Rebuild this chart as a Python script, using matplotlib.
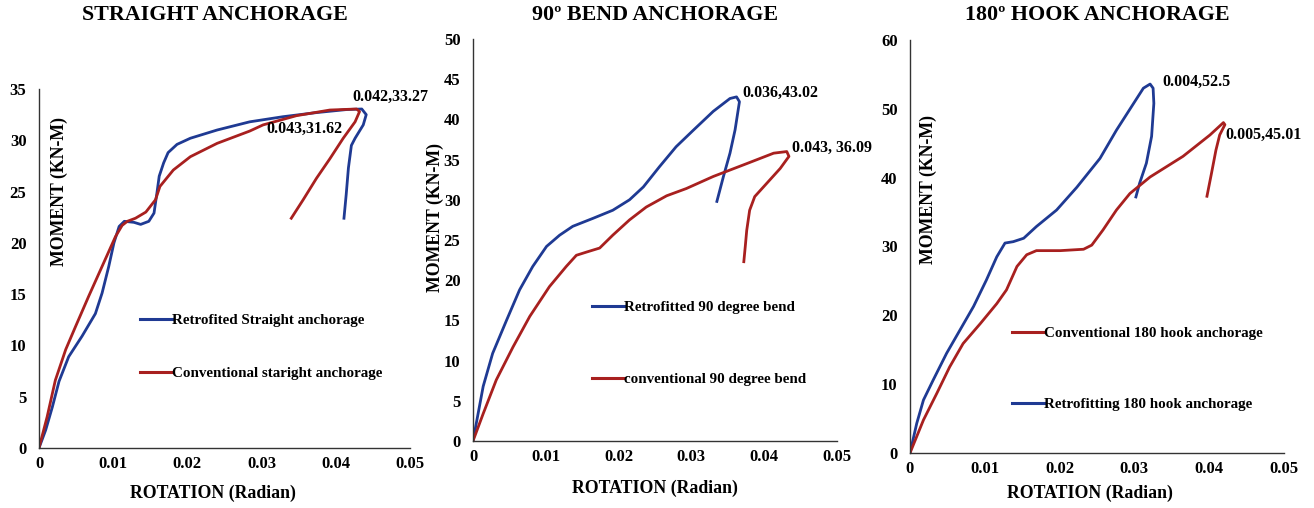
import matplotlib
matplotlib.use("Agg")
import matplotlib.pyplot as plt
from matplotlib.lines import Line2D

plt.rcParams['font.family'] = ['Liberation Serif', 'DejaVu Serif']
plt.rcParams['font.weight'] = 'bold'

BLUE = '#1F3A93'
RED = '#A8201F'

# ---------------- Data ----------------
# Straight anchorage
s_retro_x = [0, 0.0009, 0.0018, 0.0027, 0.004, 0.0058, 0.0076, 0.0085, 0.0094, 0.0101, 0.0108,
             0.0115, 0.0128, 0.0137, 0.0148, 0.0155, 0.0159, 0.0162, 0.0168, 0.0174, 0.0186,
             0.0204, 0.024, 0.0284, 0.0329, 0.0374, 0.0415, 0.0435, 0.0441, 0.0437, 0.0426,
             0.0421, 0.0417, 0.0414, 0.0411]
s_retro_y = [0, 1.75, 4.0, 6.5, 8.9, 10.9, 13.1, 15.1, 17.7, 20.0, 21.6,
             22.1, 22.0, 21.8, 22.1, 22.9, 24.9, 26.5, 27.8, 28.8, 29.6,
             30.2, 31.0, 31.8, 32.3, 32.7, 33.0, 33.05, 32.5, 31.5, 30.2,
             29.5, 27.3, 24.7, 22.4]
s_conv_x = [0, 0.0011, 0.0022, 0.0036, 0.0049, 0.0067, 0.0085, 0.0103, 0.0112, 0.0119, 0.013,
            0.0144, 0.0157, 0.0163, 0.0181, 0.0204, 0.024, 0.0284, 0.0302, 0.0347, 0.0392,
            0.0428, 0.0432, 0.0426, 0.041, 0.0392, 0.0374, 0.0356, 0.034]
s_conv_y = [0, 3.05, 6.6, 9.6, 11.8, 14.8, 17.7, 20.6, 21.7, 22.1, 22.4,
            23.0, 24.2, 25.5, 27.1, 28.4, 29.7, 30.9, 31.5, 32.4, 32.95,
            33.05, 32.8, 31.8, 30.2, 28.2, 26.3, 24.2, 22.4]

# 90 degree bend anchorage
b_retro_x = [0, 0.0007, 0.0014, 0.0027, 0.0046, 0.0064, 0.0082, 0.0101, 0.0119, 0.0137, 0.0165,
             0.0192, 0.0215, 0.0234, 0.0256, 0.0279, 0.0302, 0.033, 0.0353, 0.0362, 0.0366,
             0.036, 0.0353, 0.0344, 0.0335]
b_retro_y = [0, 3.4, 6.8, 10.9, 15.0, 18.8, 21.7, 24.2, 25.6, 26.7, 27.7,
             28.7, 30.0, 31.6, 34.1, 36.6, 38.6, 41.0, 42.6, 42.8, 42.2,
             38.7, 35.8, 32.9, 29.8]
b_conv_x = [0, 0.0014, 0.0032, 0.0055, 0.0078, 0.0105, 0.0128, 0.0142, 0.0156, 0.0174, 0.0192,
            0.0215, 0.0238, 0.0266, 0.0293, 0.033, 0.0376, 0.0413, 0.0431, 0.0434, 0.0422,
            0.0403, 0.0387, 0.038, 0.0376, 0.0374, 0.0372]
b_conv_y = [0, 3.4, 7.6, 11.7, 15.5, 19.2, 21.7, 23.1, 23.5, 24.0, 25.6,
            27.5, 29.1, 30.5, 31.4, 32.9, 34.5, 35.8, 36.0, 35.4, 33.9,
            32.0, 30.4, 28.7, 26.2, 24.2, 22.3]

# 180 degree hook anchorage
h_retro_x = [0, 0.0009, 0.0018, 0.0031, 0.0049, 0.0067, 0.0085, 0.0102, 0.0116, 0.0127, 0.0138,
             0.0152, 0.0169, 0.0196, 0.0223, 0.0254, 0.0276, 0.0299, 0.0312, 0.0321, 0.0325,
             0.0326, 0.0323, 0.0316, 0.0307, 0.0302]
h_retro_y = [0, 4.3, 7.7, 10.6, 14.5, 17.9, 21.3, 25.1, 28.5, 30.5, 30.7,
             31.2, 32.9, 35.3, 38.6, 42.8, 46.9, 50.8, 53.0, 53.6, 53.0,
             50.8, 46.0, 42.1, 39.2, 37.2]
h_conv_x = [0, 0.0018, 0.0036, 0.0053, 0.0071, 0.0094, 0.0116, 0.0129, 0.0143, 0.0156, 0.0169,
            0.0201, 0.0232, 0.0243, 0.0258, 0.0276, 0.0294, 0.0321, 0.0365, 0.0401, 0.0419,
            0.0421, 0.0414, 0.0409, 0.0403, 0.0397]
h_conv_y = [0, 4.8, 8.7, 12.5, 15.9, 18.8, 21.7, 23.7, 27.1, 28.8, 29.4,
            29.4, 29.6, 30.2, 32.4, 35.3, 37.7, 40.1, 43.1, 46.2, 48.0,
            47.7, 46.2, 44.0, 40.6, 37.3]

titles = ['STRAIGHT ANCHORAGE', '90º BEND ANCHORAGE', '180º HOOK ANCHORAGE']
xticks = [0, 0.01, 0.02, 0.03, 0.04, 0.05]
xtick_labels = ['0', '0.01', '0.02', '0.03', '0.04', '0.05']

W, H = 1314, 508
fig = plt.figure(figsize=(W / 100, H / 100), dpi=100)


def px_axes(l, r, t, b):
    return fig.add_axes([l / W, (H - b) / H, (r - l) / W, (b - t) / H])


def style(ax, ymax):
    ax.set_xlim(0, 0.05)
    ax.set_ylim(0, ymax)
    ax.set_xticks(xticks)
    ax.set_xticklabels(xtick_labels)
    ax.set_yticks(list(range(0, ymax + 1, 5 if ymax <= 50 else 10)))
    for s in ['top', 'right']:
        ax.spines[s].set_visible(False)
    for s in ['left', 'bottom']:
        ax.spines[s].set_color('#333333')
        ax.spines[s].set_linewidth(1.0)
    ax.tick_params(length=0, labelsize=12)
    ax.tick_params(axis='x', pad=6)
    ax.tick_params(axis='y', pad=9)
    for lab in ax.get_xticklabels() + ax.get_yticklabels():
        lab.set_fontweight('bold')


lw = 2.0
fs_ann = 11.5
fs_leg = 10.8


def ann(ax, x, y, s):
    ax.text(x, y, s, fontsize=fs_ann, fontweight='bold', va='center', ha='left', clip_on=False)


# Panel 1
ax1 = px_axes(39, 410, 89, 448)
style(ax1, 35)
ax1.plot(s_retro_x, s_retro_y, color=BLUE, lw=lw, solid_joinstyle='round')
ax1.plot(s_conv_x, s_conv_y, color=RED, lw=lw, solid_joinstyle='round')
ann(ax1, 0.0422, 34.2, '0.042,33.27')
ann(ax1, 0.0306, 31.1, '0.043,31.62')
h1 = [Line2D([], [], color=BLUE, lw=2.2), Line2D([], [], color=RED, lw=2.2)]
ax1.legend(h1, ['Retrofited Straight anchorage', 'Conventional staright anchorage'],
           loc='upper left', bbox_to_anchor=(0.257, 0.392), frameon=False,
           handlelength=2.1, handletextpad=0.0, labelspacing=2.64, borderaxespad=0,
           prop={'weight': 'bold', 'size': fs_leg})

# Panel 2
ax2 = px_axes(473, 837, 39, 441)
style(ax2, 50)
ax2.plot(b_retro_x, b_retro_y, color=BLUE, lw=lw, solid_joinstyle='round')
ax2.plot(b_conv_x, b_conv_y, color=RED, lw=lw, solid_joinstyle='round')
ann(ax2, 0.0370, 43.3, '0.036,43.02')
ann(ax2, 0.0438, 36.4, '0.043, 36.09')
h2 = [Line2D([], [], color=BLUE, lw=2.2), Line2D([], [], color=RED, lw=2.2)]
ax2.legend(h2, ['Retrofitted 90 degree bend', 'conventional 90 degree bend'],
           loc='upper left', bbox_to_anchor=(0.311, 0.365), frameon=False,
           handlelength=2.1, handletextpad=0.0, labelspacing=3.9, borderaxespad=0,
           prop={'weight': 'bold', 'size': fs_leg})

# Panel 3
ax3 = px_axes(910, 1284, 40, 453)
style(ax3, 60)
ax3.plot(h_retro_x, h_retro_y, color=BLUE, lw=lw, solid_joinstyle='round')
ax3.plot(h_conv_x, h_conv_y, color=RED, lw=lw, solid_joinstyle='round')
ann(ax3, 0.0338, 53.9, '0.004,52.5')
ann(ax3, 0.0421, 46.2, '0.005,45.01')
h3 = [Line2D([], [], color=RED, lw=2.2), Line2D([], [], color=BLUE, lw=2.2)]
ax3.legend(h3, ['Conventional 180 hook anchorage', 'Retrofitting 180 hook anchorage'],
           loc='upper left', bbox_to_anchor=(0.257, 0.32), frameon=False,
           handlelength=2.1, handletextpad=0.0, labelspacing=3.84, borderaxespad=0,
           prop={'weight': 'bold', 'size': fs_leg})

# Titles
for cx, t in zip([215, 655, 1097], titles):
    fig.text(cx / W, 1 - 15 / H, t, ha='center', va='center', fontsize=15.8, fontweight='bold')

# X labels
for cx, cy in zip([213, 655, 1090], [493, 488, 493]):
    fig.text(cx / W, 1 - cy / H, 'ROTATION (Radian)', ha='center', va='center', fontsize=12.8,
             fontweight='bold')

# Y labels
for cx, cy in zip([59, 435, 928], [192, 218, 189]):
    fig.text(cx / W, 1 - cy / H, 'MOMENT (KN-M)', ha='center', va='center', rotation=90,
             fontsize=12.8, fontweight='bold')

fig.savefig('out.png', dpi=100, facecolor='white')
